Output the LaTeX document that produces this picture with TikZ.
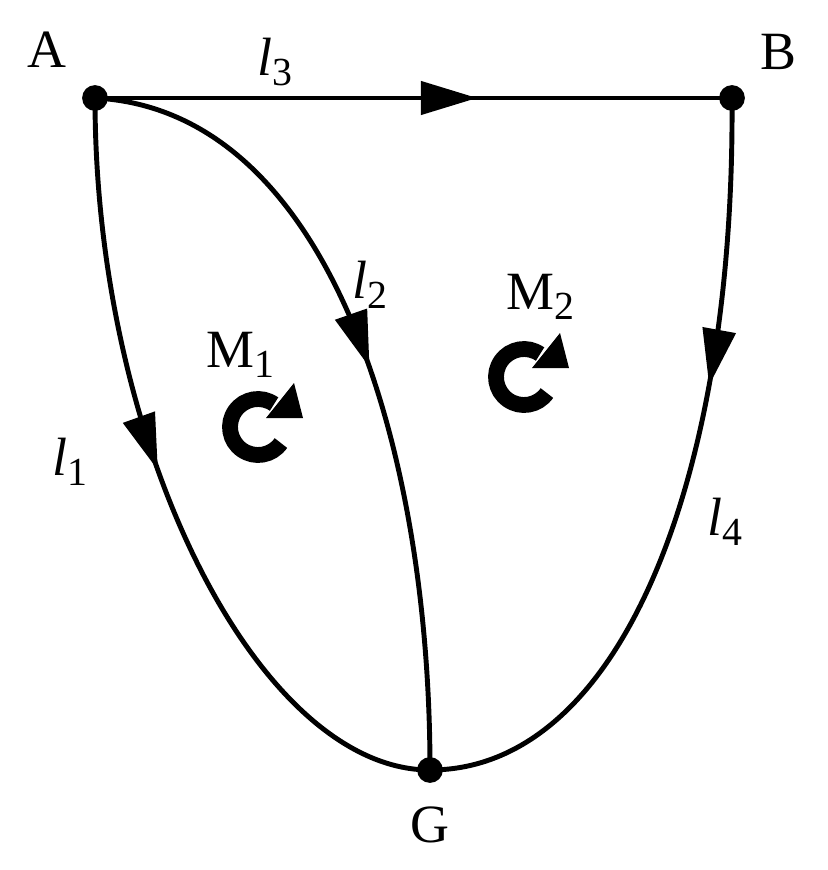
\documentclass[tikz,border=0pt]{standalone}
\usepackage{fontspec}
\setmainfont{Liberation Serif}
\usetikzlibrary{arrows.meta,decorations.markings,positioning}
\newcommand{\subidx}[1]{\raisebox{-9pt}{\fontsize{34}{36}\selectfont #1}}
\tikzset{
    % point styles
    vertex/.style={circle,fill=black,inner sep=0pt,minimum size=22pt},
    tag/.style={font=\fontsize{46}{50}\selectfont},
    % path styles
    branch/.style={line width=4.2pt,postaction={decorate},
        decoration={markings,mark=at position #1 with {\arrow{Triangle[length=48pt,width=28pt]}}}},
    loop ring/.style={line width=13.5pt}
}
\begin{document}
\begin{tikzpicture}[x=0.03cm,y=-0.03cm]
        \useasboundingbox (0,0) rectangle (827,870);
        % vertices
        \node[vertex] (A) at (95,98) {};
        \node[vertex] (B) at (732,98) {};
        \node[vertex] (G) at (430,770) {};
        \node[tag] at (47,50) {A};
        \node[tag] at (778,52) {B};
        \node[tag] at (430,825) {G};

        % branches
        \draw[branch=0.6] (A.center) -- (B.center);
        \draw[branch=0.47] (A.center) .. controls (95,450) and (260,770) .. (G.center);
        \draw[branch=0.5] (A.center) .. controls (330,110) and (430,450) .. (G.center);
        \draw[branch=0.36] (B.center) .. controls (735,480) and (620,770) .. (G.center);
        \node[tag] at (275,62) {\textit{l}\subidx{3}};
        \node[tag] at (370,285) {\textit{l}\subidx{2}};
        \node[tag] at (70,462) {\textit{l}\subidx{1}};
        \node[tag] at (725,522) {\textit{l}\subidx{4}};

        % meshes
        \node[tag] at (240,355) {M\subidx{1}};
        \node[tag] at (540,297) {M\subidx{2}};
        \foreach \cx/\cy in {258/427,524/377} {
            \draw[loop ring] (\cx,\cy) ++(35:28) arc[start angle=35,end angle=305,radius=28];
            \fill (\cx+8,\cy-9) -- (\cx+45,\cy-9) -- (\cx+36,\cy-44) -- cycle;
        }
    \end{tikzpicture}
\end{document}
